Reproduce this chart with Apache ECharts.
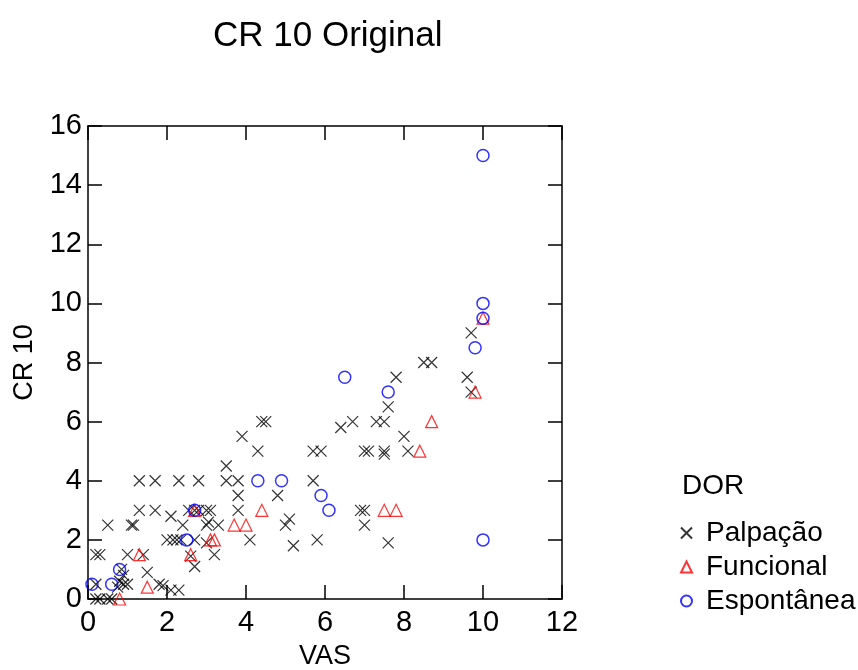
<!DOCTYPE html>
<html>
<head>
<meta charset="utf-8">
<script src="https://cdn.jsdelivr.net/npm/echarts@6/dist/echarts.min.js"></script>
<style>
  html, body { margin: 0; padding: 0; background: #fff; }
  #chart { width: 858px; height: 670px; }
</style>
</head>
<body>
<div id="chart"></div>
<script>
// values: [VAS, CR 10]
const palpacao = [
  [9.7, 9], [9.6, 7.5], [9.7, 7], [8.5, 8], [8.7, 8], [7.8, 7.5], [7.6, 6.5],
  [7.3, 6], [7.5, 6], [6.7, 6], [6.4, 5.8], [4.4, 6], [4.5, 6], [8.0, 5.5],
  [3.9, 5.5], [4.3, 5], [5.7, 5], [5.9, 5], [7.0, 5], [7.1, 5], [7.5, 4.9],
  [7.5, 5], [8.1, 5], [3.5, 4.5], [5.7, 4], [4.8, 3.5], [3.8, 3.5], [3.8, 3],
  [5.1, 2.7], [5.0, 2.5], [6.9, 3], [7.0, 3], [7.0, 2.5], [5.2, 1.8], [5.8, 2],
  [7.6, 1.9], [4.1, 2],
  [1.3, 4], [1.7, 4], [2.3, 4], [2.8, 4], [3.5, 4], [3.8, 4],
  [1.3, 3], [1.7, 3], [2.55, 3], [2.7, 3], [2.8, 3], [3.0, 3], [3.1, 3],
  [2.1, 2.8], [3.05, 2.6],
  [0.5, 2.5], [1.1, 2.5], [1.15, 2.5], [2.4, 2.5], [3.0, 2.5], [3.3, 2.5],
  [2.0, 2], [2.15, 2], [2.25, 2], [2.35, 2], [2.7, 2], [3.0, 1.9],
  [0.2, 1.5], [0.3, 1.5], [1.0, 1.5], [1.4, 1.5], [2.6, 1.45], [3.2, 1.5],
  [2.7, 1.1], [1.5, 0.9],
  [0.85, 1.0], [0.9, 0.8], [0.8, 0.6], [1.0, 0.5], [0.75, 0.4], [0.9, 0.5],
  [0.2, 0.5], [1.8, 0.5], [1.9, 0.45], [2.1, 0.3], [2.3, 0.3],
  [0.2, 0], [0.3, 0], [0.5, 0], [0.6, 0]
];
const funcional = [
  [9.8, 7], [10, 9.5], [8.7, 6], [8.4, 5], [7.5, 3], [7.8, 3], [4.4, 3],
  [3.7, 2.5], [4.0, 2.5], [3.1, 2], [3.2, 2], [2.6, 1.5], [2.7, 3], [1.3, 1.5],
  [1.5, 0.4], [0.8, 0]
];
const espontanea = [
  [10, 15], [10, 10], [10, 9.5], [9.8, 8.5], [6.5, 7.5], [7.6, 7], [4.3, 4],
  [4.9, 4], [5.9, 3.5], [6.1, 3], [10, 2], [2.7, 3], [2.5, 2], [0.8, 1],
  [0.1, 0.5], [0.6, 0.5]
];
const seriesNames = ['Palpação', 'Funcional', 'Espontânea'];
const xTicks = { min: 0, max: 12, interval: 2 };
const yTicks = { min: 0, max: 16, interval: 2 };

const font = 'Liberation Sans, Arial, sans-serif';
const crossPath = 'path://M0,0L10,10M10,0L0,10';

const chart = echarts.init(document.getElementById('chart'));

function axis(base, pos, labels, margin) {
  return Object.assign({
    type: 'value',
    position: pos,
    splitLine: { show: false },
    axisLine: { show: true, onZero: false, lineStyle: { color: '#000', width: 1.5 } },
    axisTick: { show: true, inside: true, length: 14, lineStyle: { color: '#000', width: 1.5 } },
    axisLabel: { show: labels, color: '#000', fontSize: 29, fontFamily: font, margin: margin || 8 }
  }, base);
}

chart.setOption({
  backgroundColor: '#fff',
  animation: false,
  title: {
    text: 'CR 10 Original',
    left: 208,
    top: 14,
    textStyle: { color: '#000', fontSize: 35, fontWeight: 'normal', fontFamily: font }
  },
  grid: { left: 88, right: 296, top: 126, bottom: 71, outerBoundsMode: 'none', containLabel: false },
  graphic: [{
    type: 'text',
    left: 682,
    top: 472,
    style: { text: 'DOR', fill: '#000', fontSize: 28, fontFamily: font }
  }],
  legend: {
    orient: 'vertical',
    left: 680,
    top: 519,
    padding: 0,
    itemGap: 6,
    itemWidth: 11,
    itemHeight: 11,
    textStyle: { color: '#000', fontSize: 28, fontFamily: font, lineHeight: 28, padding: [0, 0, 0, 9] },
    data: seriesNames
  },
  xAxis: [
    axis(Object.assign({ name: 'VAS', nameLocation: 'middle', nameGap: 44,
      nameTextStyle: { color: '#000', fontSize: 27, fontFamily: font } }, xTicks), 'bottom', true, 9),
    axis(Object.assign({}, xTicks), 'top', false)
  ],
  yAxis: [
    axis(Object.assign({ name: 'CR 10', nameLocation: 'middle', nameGap: 50,
      nameTextStyle: { color: '#000', fontSize: 27, fontFamily: font } }, yTicks), 'left', true, 6),
    axis(Object.assign({}, yTicks), 'right', false)
  ],
  series: [
    {
      name: seriesNames[0], type: 'scatter', data: palpacao,
      symbol: crossPath, symbolSize: 11,
      itemStyle: { color: 'rgba(0,0,0,0)', borderColor: '#000', borderWidth: 1.2 }
    },
    {
      name: seriesNames[1], type: 'scatter', data: funcional,
      symbol: 'triangle', symbolSize: 12,
      itemStyle: { color: 'rgba(0,0,0,0)', borderColor: '#ff0000', borderWidth: 1.2 }
    },
    {
      name: seriesNames[2], type: 'scatter', data: espontanea,
      symbol: 'circle', symbolSize: 12,
      itemStyle: { color: 'rgba(0,0,0,0)', borderColor: '#0000ff', borderWidth: 1.5 }
    }
  ]
});
</script>
</body>
</html>
